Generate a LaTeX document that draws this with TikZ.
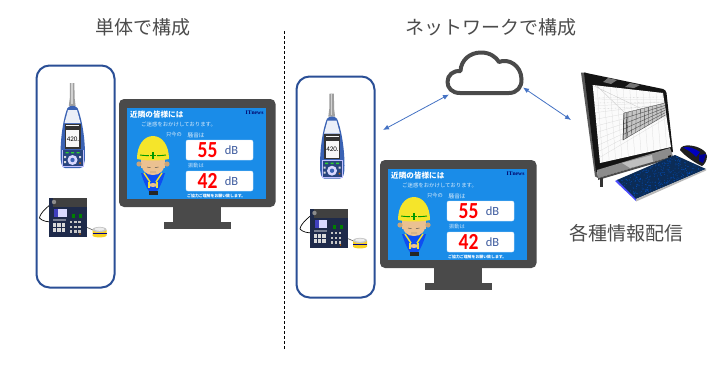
\documentclass[tikz,border=0pt]{standalone}
\usepackage{fontspec}
\usepackage{graphicx}
\setmainfont{Noto Sans CJK JP}
\newfontfamily\serifsmall{Liberation Serif}
\newfontfamily\latinnarrow{Carlito}
\usetikzlibrary{arrows.meta,calc}
\definecolor{framegray}{HTML}{4A4A4A}
\definecolor{screenblue}{HTML}{1A8CE8}
\definecolor{boxnavy}{HTML}{2A4F96}
\definecolor{arrowblue}{HTML}{4472C4}
\definecolor{helmet}{HTML}{F5E52A}
\definecolor{skin}{HTML}{EBC191}
\definecolor{meterblue}{HTML}{3A62B4}
\definecolor{dbblue}{HTML}{3C5A9E}
\definecolor{keyblue}{HTML}{14509E}
\definecolor{recnavy}{HTML}{1E2A4A}
\newcommand{\bigdigits}[1]{\scalebox{0.85}[1]{#1}}
\tikzset{
  x=1pt,y=-1pt,
  title/.style={font=\fontsize{19}{21}\selectfont,text=black!70,inner sep=0pt},
  panel/.style={draw=boxnavy,line width=2pt,rounded corners=13pt,fill=white},
  link/.style={draw=arrowblue,line width=0.8pt,{Latex[length=6pt,width=5pt]}-{Latex[length=6pt,width=5pt]}},
  scr/.style={inner sep=0pt,text=white,anchor=west},
  reading/.style={fill=white,draw=white!85!screenblue,line width=.4pt,rounded corners=2pt},
  value/.style={inner sep=0pt,text=red,font=\latinnarrow\fontsize{23}{24}\selectfont\bfseries},
  unit/.style={inner sep=0pt,text=dbblue,font=\latinnarrow\fontsize{12.5}{13}\selectfont},
  pics/soundmeter/.style={code={
    \fill[gray!75] (70,83) -- (74.4,83) -- (74.6,98) -- (75.6,106) -- (68.8,106) -- (69.8,98) -- cycle;
    \fill[gray!35] (71.3,83) rectangle (72.8,104);
    \fill[meterblue] (67.5,108) .. controls (70,105) and (75,105) .. (77.5,108)
      .. controls (81,116) and (85,135) .. (85,155) .. controls (85,163) and (84,168) .. (80,168)
      -- (65,168) .. controls (62,168) and (60.5,163) .. (60.5,155) .. controls (60.5,135) and (64,116) .. (67.5,108) -- cycle;
    \fill[white!90!meterblue] (68,110) -- (77,110) -- (80.5,123) -- (64.5,123) -- cycle;
    \fill[black!80] (64.7,123.5) rectangle (80.5,148.5);
    \fill[white!94!gray] (66,125) rectangle (79.3,147);
    \fill[black!80] (66.3,126) rectangle (79,130);
    \node[inner sep=0pt,font=\latinnarrow\fontsize{7}{7}\selectfont,text=black] (mread) at (73,139) {420.};
    \fill[white!75!blue] (62,149.5) rectangle (83.5,167);
    \fill[meterblue!70!black] (63,150) rectangle (82.5,166);
    \fill[green!65!gray] (65.5,152) rectangle +(3,1.4) (71,152) rectangle +(3,1.4) (76.5,152) rectangle +(3,1.4);
    \fill[white!85!blue] (72.5,160) circle (5);
    \fill[meterblue] (72.5,160) circle (2.2);
    \fill[white!70!gray] (64,156) rectangle (66,158) (64,161) rectangle (66,163) (79,156) rectangle (81,158);
    \fill[orange!80!black] (80,163) circle (1);
  }},
  pics/recorder/.style={code={
    \draw[black,line width=.7pt] (54,202) .. controls (48,206) and (40,213) .. (39.5,218) .. controls (42,221) and (47,222) .. (53,222);
    \draw[gray!70!black,line width=.6pt] (86,227) -- (93,230);
    \fill[recnavy] (49,198) rectangle (87,237);
    \fill[black!75] (53,198) rectangle (87,207);
    \fill[black!45] (54,202) circle (2.2);
    \fill[white!85!blue] (54,209) rectangle (66.5,217);
    \fill[blue!50!gray] (54,209) rectangle (58,217);
    \fill[white!40!recnavy] (53,218.5) rectangle (66,220.5);
    \foreach \i in {0,1,2} \foreach \j in {0,1}
      \fill[white!70!gray] ({53+\i*4.4},{223+\j*5}) rectangle +(3.3,3.6);
    \foreach \i in {0,1,2} \foreach \j in {0,1,2}
      \fill[white!55!gray] ({70+\i*4.2},{221+\j*4.6}) rectangle +(2.4,2.4);
    \fill[green!50!black] (72,214) rectangle (75,218);
    \fill[green!50!black] (79,214) rectangle (82,218);
    \fill[orange!70!black] (80,234) circle (.9);
    % vibration pickup
    \fill[helmet!80!orange] (92.5,230) rectangle (106.5,235.5)
      .. controls (106.5,238) and (92.5,238) .. (92.5,235.5) -- cycle;
    \fill[gray!45] (99.5,229.5) ellipse[x radius=7,y radius=2.6];
    \fill[white!85!gray] (99.5,229.2) ellipse[x radius=5,y radius=1.6];
    \fill[blue!55!black] (92.5,233) rectangle (106.5,233.7);
  }},
  pics/display/.style={code={
    % stand and housing
    \fill[framegray] (173,205) rectangle (221,223);
    \fill[framegray] (163.5,222) rectangle (231,229);
    \fill[framegray] (119,99) [rounded corners=5pt] -- (119,207) -- (275.5,207) -- (275.5,99) -- cycle;
    \fill[screenblue] (127,108) rectangle (266,199);
    % notice text
    \node[scr,font=\fontsize{7.6}{8}\selectfont\bfseries] at (130,114.5) {近隣の皆様には};
    \node[scr,text=white!85!screenblue,font=\fontsize{5.4}{6}\selectfont] at (141,124) {ご迷惑をおかけしております。};
    \node[scr,text=white!85!screenblue,font=\fontsize{5.2}{6}\selectfont] at (166,135) {只今の};
    \node[scr,text=white!85!screenblue,font=\fontsize{5.6}{6}\selectfont] at (187.5,135) {騒音は};
    \node[scr,text=white!75!screenblue,font=\fontsize{5.2}{6}\selectfont] at (188,166) {振動は};
    \node[scr,font=\fontsize{3.9}{4}\selectfont\bfseries] at (187,195.5) {ご協力ご理解をお願い致します。};
    \node[scr,text=black!60!blue,font=\serifsmall\fontsize{5.6}{6}\selectfont\bfseries] at (245.5,113) {ITnews};
    % level readouts
    \fill[reading] (186,140) rectangle (253,160);
    \fill[reading] (186,171) rectangle (253,191);
    \node[value] at (207.5,150.5) {\bigdigits{55}};
    \node[value] at (207.5,180.5) {\bigdigits{42}};
    \node[unit] at (231.5,150.5) {dB};
    \node[unit] at (231.5,181.5) {dB};
    % worker bowing in a hard hat
    \fill[blue!45!screenblue] (141,173) .. controls (143,180) and (147,190) .. (150,192)
       -- (156,192) .. controls (159,190) and (163,180) .. (165,173) -- cycle;
    \fill[black!85] (148.5,191) rectangle (157.5,194.5);
    \draw[helmet,line width=1.5pt] (144,173) -- (150,182) (162,173) -- (156,182);
    \draw[helmet,line width=1.3pt] (149,182) -- (149,188) (157,182) -- (157,188);
    \fill[skin] (153,185) ellipse[x radius=4,y radius=2];
    \fill[skin] (141,153) rectangle (165,168);
    \fill[skin] (141,160) .. controls (141,171) and (146,175) .. (153,175)
        .. controls (160,175) and (165,171) .. (165,160) -- cycle;
    \fill[skin!85!black] (139,164) circle (2.6) (167,164) circle (2.6);
    \draw[black!70,line width=.45pt] (147,167) -- (150.5,167.7) (158.5,167) -- (155,167.7) (150,172) -- (156,172);
    \fill[helmet] (137,159) .. controls (137,145) and (144,136) .. (153,136)
        .. controls (162,136) and (169,145) .. (169,159) .. controls (160,161) and (146,161) .. (137,159) -- cycle;
    \draw[green!60!black,line width=.9pt] (140,155) .. controls (146,156) and (160,156) .. (166,155);
    \fill[helmet] (149,152) rectangle (157,158.5);
    \draw[green!60!black,line width=1.2pt] (153,152) -- (153,158.5) (149.8,155.3) -- (156.2,155.3);
  }},
}
\begin{document}
\begin{tikzpicture}
\useasboundingbox (0,0) rectangle (720,372);
\fill[white] (0,0) rectangle (720,372);

% headings
\node[title] (solo) at (142.5,27) {単体で構成};
\node[title] (net) at (491,27) {ネットワークで構成};
\node[title] (info) at (626.5,233) {各種情報配信};

% divider
\coordinate (divtop) at (284,31);
\coordinate (divbot) at (284,349);
\draw[black,line width=.6pt,dash pattern=on 3pt off 2pt] (divtop) -- (divbot);

% device groups
\node[panel,minimum width=78pt,minimum height=222pt,inner sep=0pt] (groupA) at (75.5,176.5) {};
\node[panel,minimum width=78pt,minimum height=221pt,inner sep=0pt] (groupB) at (335.5,187) {};

\pic at (0,0) {soundmeter};
\pic at (0,0) {recorder};
\pic at (0,0) {display};

\pic[xshift=259.5pt,yshift=-10.7pt] at (0,0) {soundmeter};
\pic[xshift=260.5pt,yshift=-11pt] at (0,0) {recorder};
\pic[xshift=261pt,yshift=-61pt] at (0,0) {display};

% cloud
\node[inner sep=0pt,minimum size=0pt] (cloud) at (484.5,73) {};
\draw[framegray,line width=4pt,line join=round,fill=white]
  (460,93) .. controls (452,93) and (447.5,88) .. (447.5,82)
  .. controls (447.5,75) and (453,70.5) .. (460.5,71)
  .. controls (461,60) and (470,52.5) .. (481,52.5)
  .. controls (490,52.5) and (496,57) .. (499,62)
  .. controls (508,58) and (521,65) .. (521.5,79)
  .. controls (522,87) and (517,93) .. (509,93) -- cycle;

% computer housing
\fill[gray!70!black] (581,72.5) -- (586,72.5) -- (598,178) -- (595,176.5) -- cycle;
\fill[black!92] (584,72.5) -- (663,89) .. controls (665,89.5) and (666,91) .. (666.5,93) -- (673,152) -- (596,172) -- cycle;
\fill[black!55] (608,78) -- (617,80) -- (611,84) -- (603,82) -- cycle;
\fill[black!55] (630,83) -- (640,85) -- (634,88) -- (625,87) -- cycle;
\fill[black!45] (597,170) -- (670,148) -- (673,156) -- (598,178) -- cycle;
\fill[black!25] (622,163) -- (652,155) -- (653,162) -- (630,168) -- cycle;
\fill[black!70] (598,178) -- (673,156) -- (673,158) -- (598,180) -- cycle;
% drawing on the screen
\fill[white!97!gray] (592.7,85) -- (663,93) -- (671,147) -- (600,163) -- cycle;
\begin{scope}
  \clip (592.7,85) -- (663,93) -- (671,147) -- (600,163) -- cycle;
  \foreach \a in {0,...,9}
    \draw[gray!30,line width=.25pt] (592,{99+\a*7}) -- (672,{100+\a*1.6});
  \foreach \a in {0,...,10}
    \draw[gray!30,line width=.25pt] ({597+\a*6.5},86) -- ({603+\a*6.5},165);
  \draw[gray!45,line width=.3pt] (592,85) -- (640,108) (625,113) -- (597,86);
  \draw[gray!50,line width=.35pt,densely dotted] (594,98) -- (662,97) (595,103) -- (664,102) (595,109) -- (662,106);
\end{scope}
\fill[gray!45] (624,113) -- (665,103) -- (665.5,115) -- (623,140) -- cycle;
\foreach \t in {0,.1,...,1}
  \draw[black!72,line width=.35pt] ($(624,113)!\t!(665,103)$) -- ($(623,140)!\t!(665.5,115)$);
\foreach \t in {0,.2,...,1}
  \draw[black!72,line width=.35pt] ($(624,113)!\t!(623,140)$) -- ($(665,103)!\t!(665.5,115)$);
\draw[black!85,line width=.5pt] (624,113) -- (623,140) (627,113) -- (626,138);
\fill[black!80] (600,178) rectangle (603,187);
\fill[black!90] (668,156) -- (671,155) -- (671,161) -- (669,161) -- cycle;

% keyboard and mouse
\fill[blue!70!white] (615,181) -- (618,179.5) -- (636,197) -- (636,201) -- cycle;
\fill[black!45!keyblue] (617,180) -- (675,155) -- (706,169) -- (636,199) -- cycle;
\pgfmathsetseed{17}
\foreach \i in {1,...,300}{
  \pgfmathsetmacro\uu{rnd}
  \pgfmathsetmacro\vv{rnd}
  \fill[blue!60!cyan,opacity=.45] ({618+57*\uu+18*\vv+11*\uu*\vv},{181-25*\uu+17*\vv-4*\uu*\vv}) circle (.5);
}
\fill[gray!55] (636,199) -- (706,169) -- (706,170.5) -- (636,201.5) -- cycle;
\fill[black!88] (680,150) .. controls (680,146) and (686,145) .. (690,145.5)
  .. controls (698,146) and (707,151) .. (707,156) .. controls (707,161) and (704,165) .. (702,166)
  .. controls (695,163) and (685,156) .. (680,150) -- cycle;
\fill[blue!75!black] (683,147.5) .. controls (688,146) and (694,148) .. (700,152)
  -- (696,157) .. controls (692,152) and (687,150) .. (683,147.5) -- cycle;
\fill[blue!60!black] (699,155) -- (706,154) -- (703,163) -- (699,161) -- cycle;
\coordinate (pc) at (571,120);

% network links
\coordinate (nearB) at (383,130);
\coordinate (cloudL) at (449,94.5);
\coordinate (cloudR) at (523,87.5);
\draw[link] (nearB) -- (cloudL);
\draw[link] (cloudR) -- (pc);
\end{tikzpicture}
\end{document}
